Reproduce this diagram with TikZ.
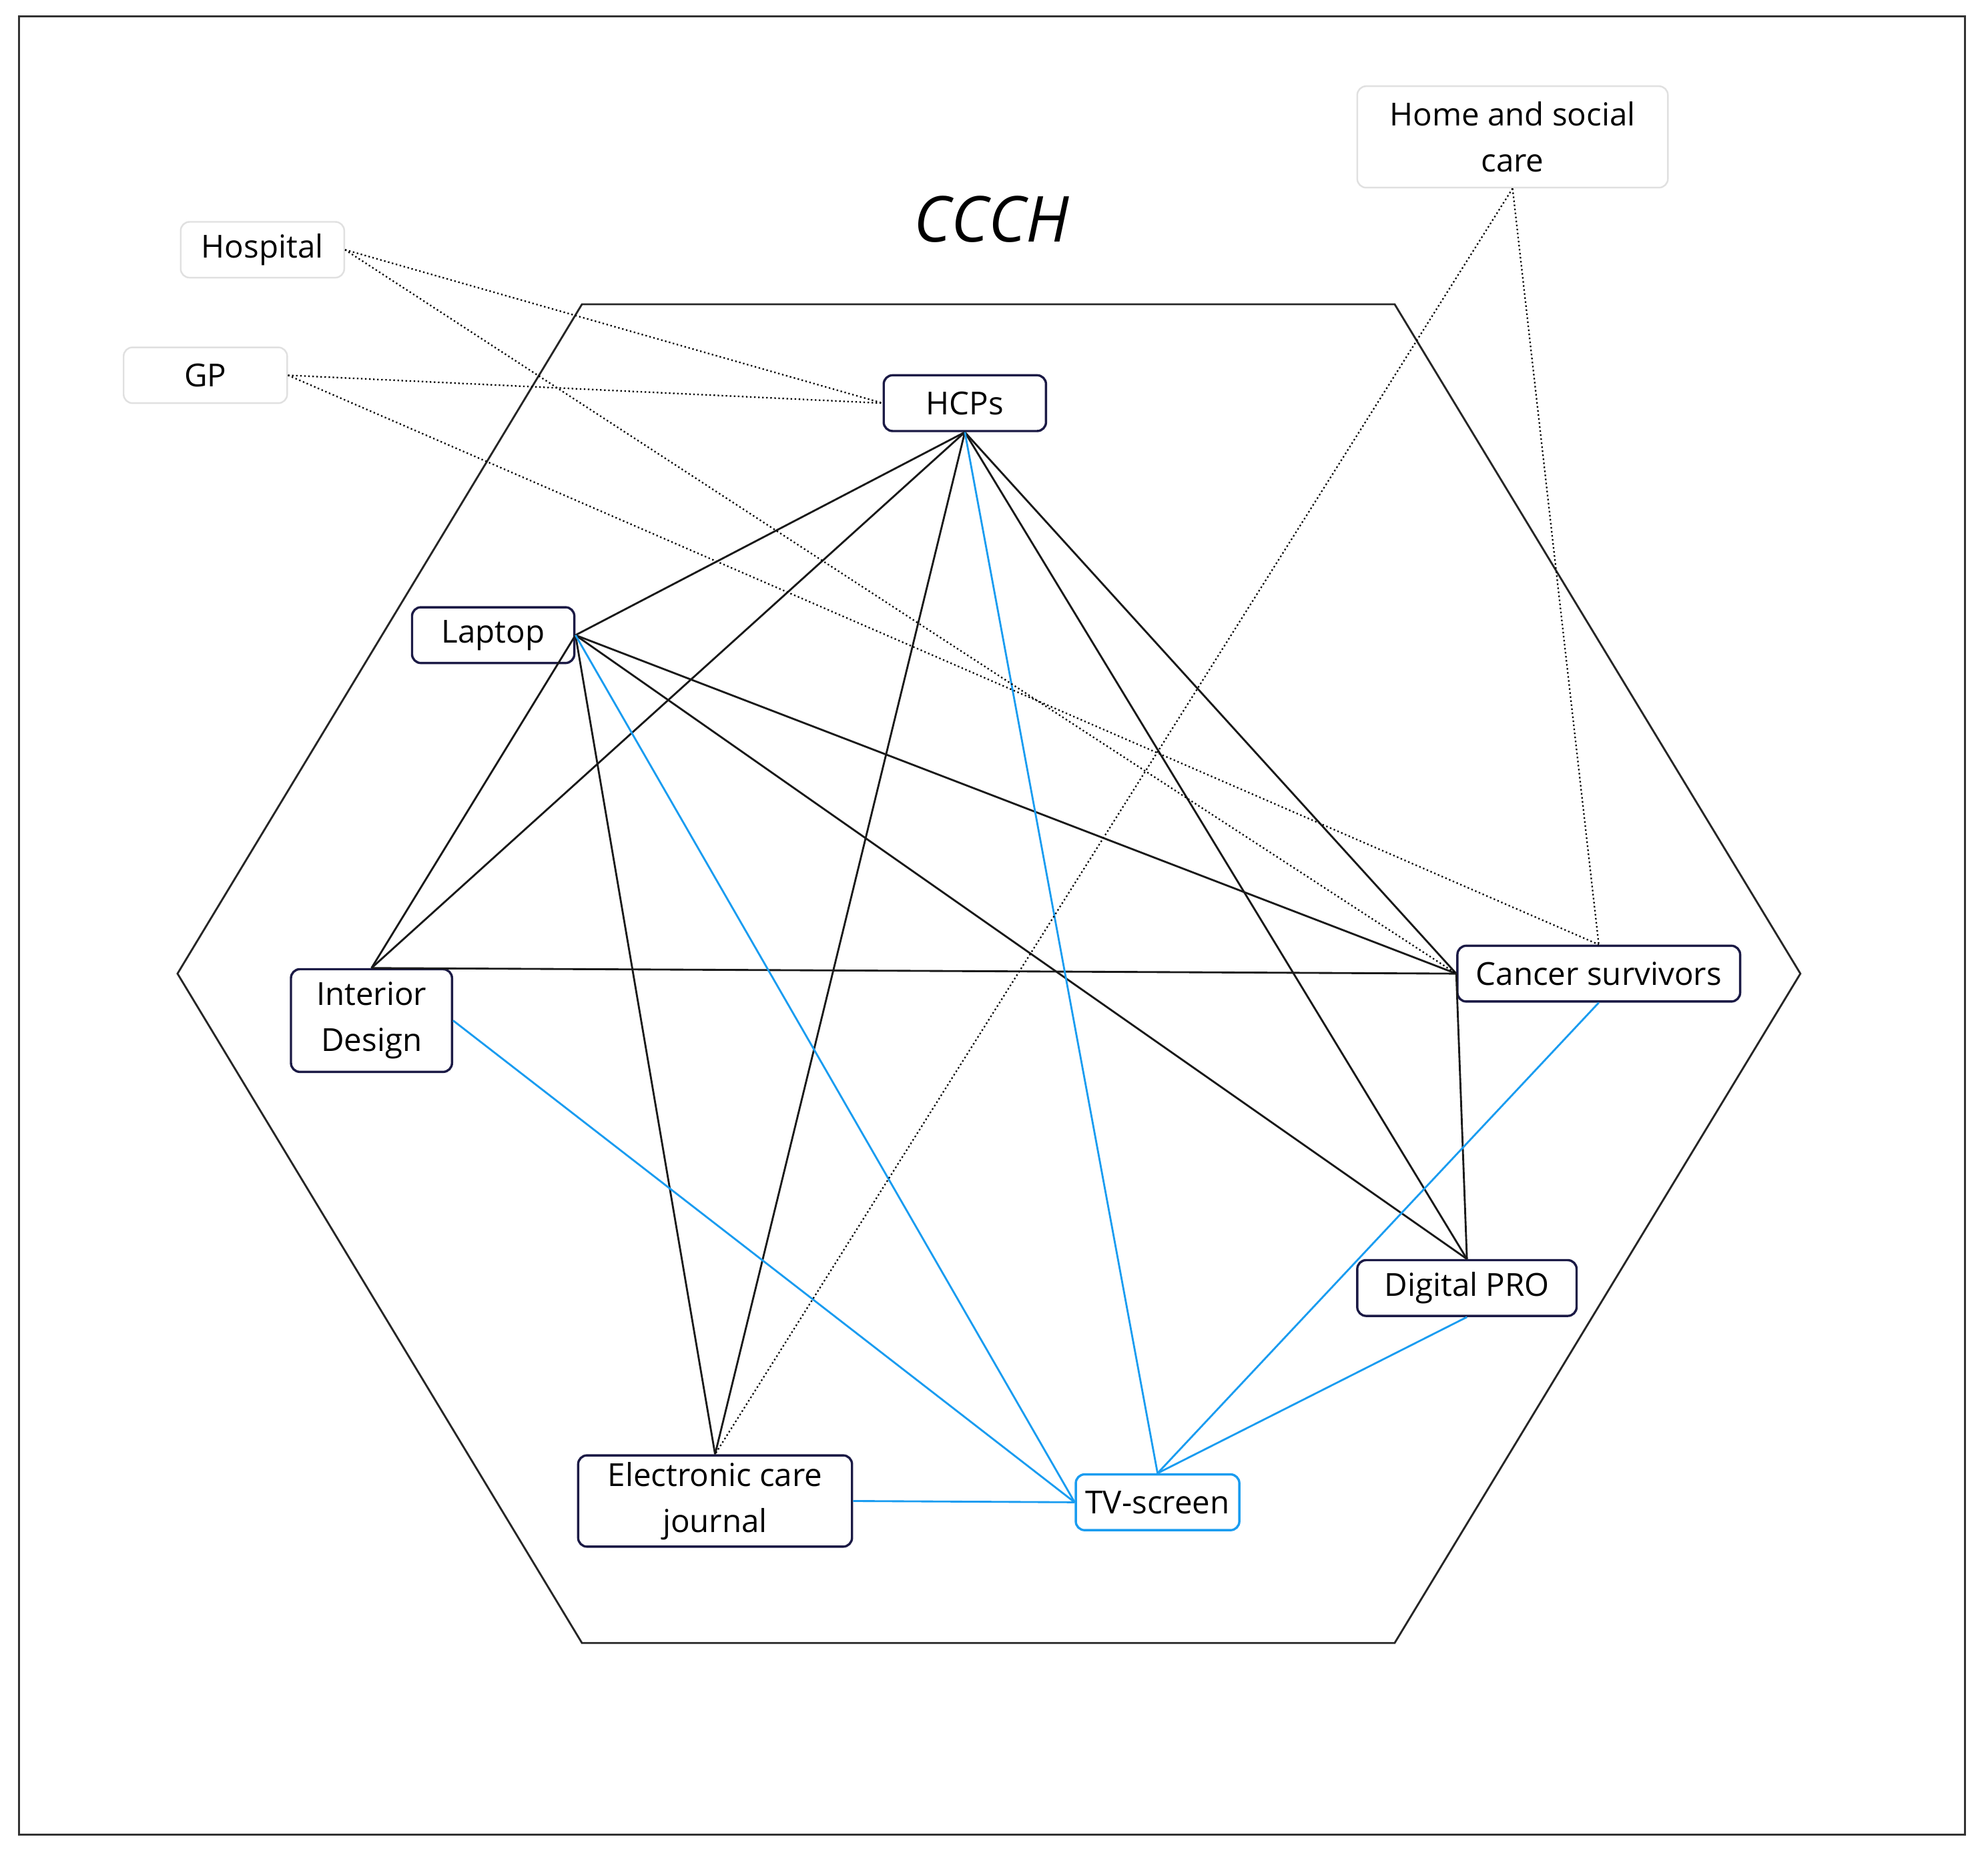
\documentclass[tikz,border=0pt]{standalone}
\usepackage{fontspec}
\setmainfont{Open Sans}
\begin{document}
\begin{tikzpicture}[x=1pt,y=-1pt,
 every node/.style={font=\fontsize{25}{36}\selectfont, inner sep=0pt, align=center},
 dk/.style={draw=navy, line width=1.8pt, rounded corners=7pt},
 lt/.style={draw=black!12, line width=1.3pt, rounded corners=7pt},
 bl/.style={draw=skyb, line width=1.8pt, rounded corners=7pt},
 e/.style={line width=1.5pt, black!90},
 eb/.style={line width=1.5pt, skyb},
 ed/.style={line width=1.2pt, dotted, black}]
\definecolor{navy}{HTML}{1B1A45}
\definecolor{skyb}{HTML}{1A9CF0}
\useasboundingbox (0,0) rectangle (1568,1460);
\draw[line width=1.5pt, black!80] (15,13) rectangle (1550,1447);
\draw[line width=1.5pt, black!85] (459,240)--(1100,240)--(1420,768)--(1100,1296)--(459,1296)--(140,768)--cycle;
\node (t) at (782,173) {\fontsize{50}{60}\selectfont\itshape CCCH};
\node[lt, minimum width=245pt, minimum height=80pt] (home) at (1193,108) {Home and social\\care};
\node[lt, minimum width=129pt, minimum height=44pt] (hosp) at (207,197) {Hospital};
\node[lt, minimum width=129pt, minimum height=44pt] (gp) at (162,296) {GP};
\node[dk, minimum width=128pt, minimum height=44pt] (hcp) at (761,318) {HCPs};
\node[dk, minimum width=128pt, minimum height=44pt] (lap) at (389,501) {Laptop};
\node[dk, minimum width=127pt, minimum height=81pt] (int) at (293,805) {Interior\\Design};
\node[dk, minimum width=223pt, minimum height=44pt] (can) at (1261,768) {Cancer survivors};
\node[dk, minimum width=173pt, minimum height=44pt] (dig) at (1157,1016) {Digital PRO};
\node[dk, minimum width=216pt, minimum height=72pt] (ecj) at (564,1184) {Electronic care\\journal};
\node[bl, minimum width=129pt, minimum height=44pt] (tv) at (913,1185) {TV-screen};
% black edges
\foreach \a in {lap.east,int.north,ecj.north,can.west,dig.north} \draw[e] (hcp.south)--(\a);
\foreach \a in {int.north,ecj.north,can.west,dig.north} \draw[e] (lap.east)--(\a);
\draw[e] (int.north)--(can.west);
\draw[e] (can.west)--(dig.north);
% blue edges
\draw[eb] (hcp.south)--(tv.north);
\draw[eb] (lap.east)--(tv.west);
\draw[eb] (int.east)--(tv.west);
\draw[eb] (can.south)--(tv.north);
\draw[eb] (dig.south)--(tv.north);
\draw[eb] (ecj.east)--(tv.west);
% dotted
\draw[ed] (hosp.east)--(hcp.west);
\draw[ed] (hosp.east)--(can.west);
\draw[ed] (gp.east)--(hcp.west);
\draw[ed] (gp.east)--(can.north);
\draw[ed] (home.south)--(ecj.north);
\draw[ed] (home.south)--(can.north);
\end{tikzpicture}
\end{document}
